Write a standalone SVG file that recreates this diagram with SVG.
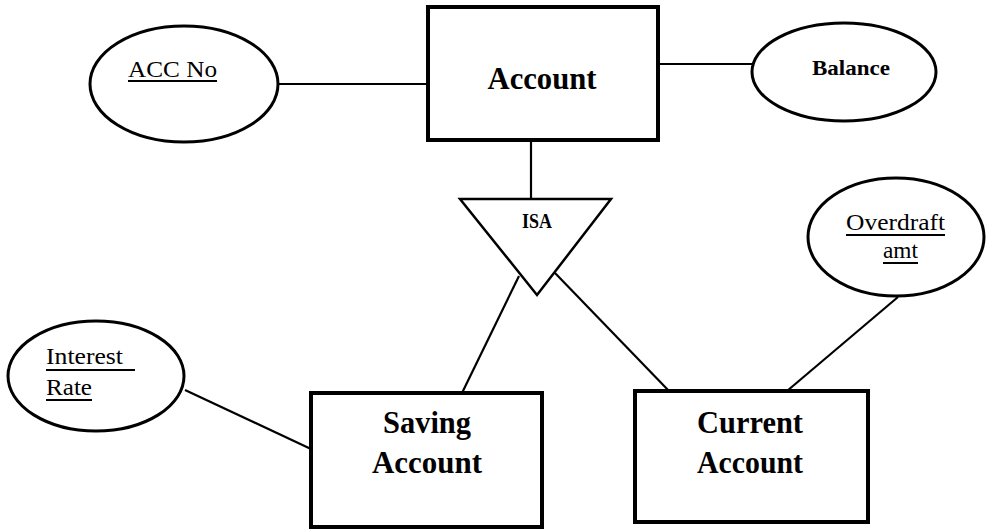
<svg xmlns="http://www.w3.org/2000/svg" width="987" height="529" viewBox="0 0 987 529">
<style>
.ent{fill:#fff;stroke:#000;stroke-width:4}
.attr{fill:#fff;stroke:#000;stroke-width:3}
.isa{fill:#fff;stroke:#000;stroke-width:2.5;stroke-linejoin:miter}
.ln{stroke:#000;stroke-width:2.2;fill:none}
.ul{stroke:#000;stroke-width:2}
text{font-family:"Liberation Serif",serif;fill:#000}
.big{font-weight:bold;font-size:32px;text-anchor:middle}
.sm{font-size:23px}
.smb{font-weight:bold;font-size:21px;text-anchor:middle}
</style>
<rect width="987" height="529" fill="#fff"/>
<g id="connectors">
<line class="ln" x1="278" y1="84" x2="428" y2="84"/>
<line class="ln" x1="658" y1="64" x2="752" y2="64"/>
<line class="ln" x1="531" y1="140" x2="531" y2="199"/>
<line class="ln" x1="519" y1="276" x2="462" y2="393"/>
<line class="ln" x1="555" y1="273" x2="669" y2="391"/>
<line class="ln" x1="185" y1="390" x2="311" y2="449"/>
<line class="ln" x1="898" y1="297" x2="787" y2="391"/>
</g>
<g id="account">
<rect class="ent" x="428" y="7" width="230" height="133"/>
<text class="big" x="542" y="89" textLength="109" lengthAdjust="spacingAndGlyphs">Account</text>
</g>
<g id="acc-no">
<ellipse class="attr" cx="184" cy="84" rx="94" ry="58"/>
<text class="sm" x="128" y="77" textLength="89" lengthAdjust="spacingAndGlyphs">ACC  No</text>
<line class="ul" x1="128" y1="81" x2="217" y2="81"/>
</g>
<g id="balance">
<ellipse class="attr" cx="844" cy="72" rx="92" ry="49"/>
<text class="smb" x="851" y="75" textLength="78" lengthAdjust="spacingAndGlyphs">Balance</text>
</g>
<g id="isa">
<polygon class="isa" points="460,199 611,199 537,295"/>
<text class="smb" x="537" y="228" textLength="30" lengthAdjust="spacingAndGlyphs">ISA</text>
</g>
<g id="saving-account">
<rect class="ent" x="311" y="393" width="231" height="134"/>
<text class="big" x="427" y="433" textLength="88" lengthAdjust="spacingAndGlyphs">Saving</text>
<text class="big" x="427" y="473" textLength="110" lengthAdjust="spacingAndGlyphs">Account</text>
</g>
<g id="current-account">
<rect class="ent" x="635" y="391" width="233" height="131"/>
<text class="big" x="750" y="433" textLength="106" lengthAdjust="spacingAndGlyphs">Current</text>
<text class="big" x="750" y="473" textLength="106" lengthAdjust="spacingAndGlyphs">Account</text>
</g>
<g id="interest-rate">
<ellipse class="attr" cx="96" cy="376" rx="88" ry="55"/>
<text class="sm" x="46" y="364" textLength="77" lengthAdjust="spacingAndGlyphs">Interest</text>
<line class="ul" x1="46" y1="370" x2="135" y2="370"/>
<text class="sm" x="46" y="395" textLength="46" lengthAdjust="spacingAndGlyphs">Rate</text>
<line class="ul" x1="46" y1="400" x2="92" y2="400"/>
</g>
<g id="overdraft-amt">
<ellipse class="attr" cx="896" cy="237" rx="88" ry="59"/>
<text class="sm" x="846" y="230" textLength="99" lengthAdjust="spacingAndGlyphs">Overdraft</text>
<line class="ul" x1="846" y1="235" x2="945" y2="235"/>
<text class="sm" x="883" y="258" textLength="35" lengthAdjust="spacingAndGlyphs">amt</text>
<line class="ul" x1="883" y1="263" x2="918" y2="263"/>
</g>
</svg>
